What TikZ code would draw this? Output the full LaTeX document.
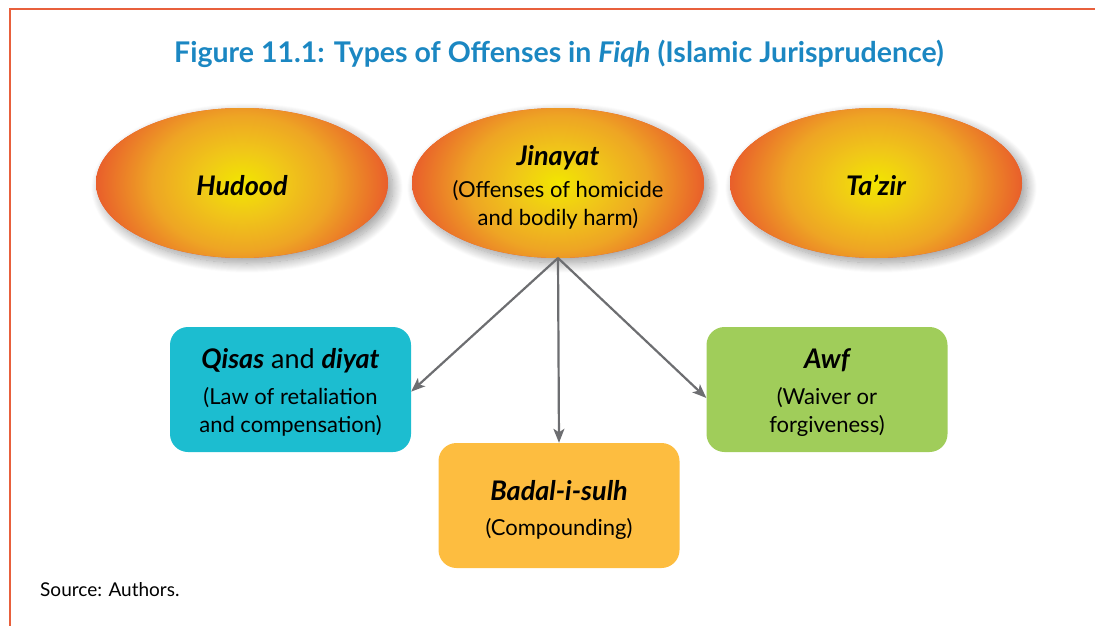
\documentclass[tikz,border=0pt]{standalone}
\usepackage{fontspec}
\setmainfont{Lato}
\usetikzlibrary{shapes.geometric,arrows.meta,shadows.blur}
\definecolor{titleblue}{HTML}{1B87C2}
\definecolor{framec}{HTML}{E8603C}
\definecolor{ycen}{HTML}{F2E600}
\definecolor{yone}{HTML}{F0C818}
\definecolor{ymid}{HTML}{EEA524}
\definecolor{yedge}{HTML}{E8522C}
\definecolor{cyanbox}{HTML}{1CBDD0}
\definecolor{orangebox}{HTML}{FDBD40}
\definecolor{greenbox}{HTML}{A0CD5A}
\definecolor{arrowgray}{HTML}{6D6E71}
\pgfdeclareradialshading{ellshade}{\pgfpoint{0bp}{0bp}}{color(0bp)=(ycen); color(7bp)=(yone); color(15bp)=(ymid); color(26bp)=(yedge); color(100bp)=(yedge)}
\tikzset{
  ell/.style={ellipse, minimum width=292pt, minimum height=150pt, inner sep=0pt,
    fill=yedge, text=black,
    path picture={\shade[shading=ellshade] (path picture bounding box.center) ellipse [x radius=150pt, y radius=112pt];},
    blur shadow={shadow xshift=5pt, shadow yshift=-5pt, shadow blur radius=10pt, shadow blur steps=20, shadow opacity=40}},
  boxnode/.style={rectangle, rounded corners=18pt, minimum width=241pt, minimum height=125pt,
    inner sep=0pt, text=black},
  conn/.style={draw=arrowgray, line width=2.2pt, -{Stealth[length=14pt,width=11pt,inset=3.5pt]}},
  lbl/.style={align=center, anchor=base, inner sep=0pt, font=\fontsize{22}{28}\selectfont},
}
\newcommand{\hd}[1]{{\fontsize{27}{28}\selectfont\bfseries\itshape #1}}
\begin{document}
\begin{tikzpicture}[x=1pt,y=-1pt]
\useasboundingbox (0,0) rectangle (1095,626);
\draw[framec, line width=1.5pt] (10,626) -- (10,9) -- (1095,9);
\node[anchor=base, inner sep=0pt, text=titleblue, font=\fontsize{28.5}{30}\selectfont\bfseries] (title) at (559,63) {Figure 11.1: Types of Offenses in \textit{Fiqh} (Islamic Jurisprudence)};
\node[ell] (hud) at (242,183) {};
\node[lbl] (hudt) at (242,195) {\hd{Hudood}};
\node[ell] (jin) at (558,183) {};
\node[lbl] (jint) at (558,225) {\hd{Jinayat}\\[4pt](Offenses of homicide\\and bodily harm)};
\node[ell] (taz) at (876,183) {};
\node[lbl] (tazt) at (876,195) {\hd{Ta’zir}};
\node[boxnode, fill=cyanbox] (qis) at (290.5,389.5) {};
\node[lbl] (qist) at (290.5,432) {\hd{Qisas}{\fontsize{27}{28}\selectfont\ and }\hd{diyat}\\[8pt](Law of retaliation\\and compensation)};
\node[boxnode, fill=orangebox] (bad) at (559,505.5) {};
\node[lbl] (badt) at (559,535) {\hd{Badal-i-sulh}\\[7pt](Compounding)};
\node[boxnode, fill=greenbox] (awf) at (827,389.5) {};
\node[lbl] (awft) at (827,432) {\hd{Awf}\\[8pt](Waiver or\\forgiveness)};
\coordinate (src) at (558,258);
\draw[conn] (src) -- (qis.-1);
\draw[conn] (src) -- (bad.north);
\draw[conn] (src) -- (awf.184);
\node[anchor=base west, inner sep=0pt, font=\fontsize{19}{22}\selectfont] (source) at (40,596) {Source: Authors.};
\end{tikzpicture}
\end{document}
